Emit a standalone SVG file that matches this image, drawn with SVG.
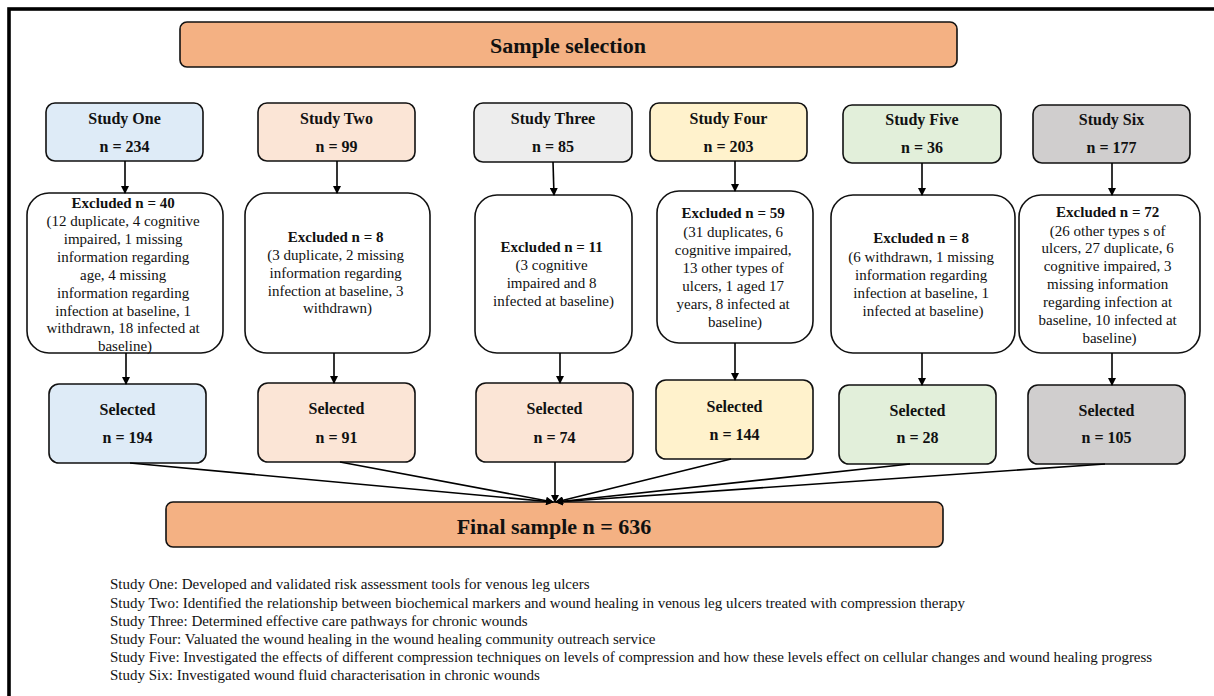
<svg xmlns="http://www.w3.org/2000/svg" width="1214" height="696" viewBox="0 0 1214 696">
<defs>
<marker id="ah" markerWidth="8" markerHeight="8" refX="7" refY="4" orient="auto" markerUnits="userSpaceOnUse">
<path d="M0,0 L8,4 L0,8 Z" fill="#000"/>
</marker>
<style>
.b{stroke:#111;stroke-width:1.6}
.t{font-family:"Liberation Serif","Times New Roman",serif;fill:#111;text-anchor:middle}
.h{font-weight:bold;font-size:16px}
.e{font-size:15px}
.eb{font-weight:bold}
.f{font-family:"Liberation Serif","Times New Roman",serif;fill:#111;font-size:15px}
.c{stroke:#000;stroke-width:1.6;fill:none;marker-end:url(#ah)}
</style>
</defs>
<rect width="1214" height="696" fill="#fff"/>
<rect x="9" y="9" width="1230" height="720" fill="none" stroke="#000" stroke-width="3.6"/>

<g id="sample-selection">
<rect class="b" x="180" y="22" width="777" height="45" rx="7" fill="#F4B183"/>
<text class="t" x="568" y="53" font-size="22" font-weight="bold">Sample selection</text>
</g>

<g id="study-one">
<rect class="b" x="46" y="103" width="157" height="58" rx="9" fill="#DEEBF7"/>
<text class="t h" x="124.5" y="123.5">Study One</text>
<text class="t h" x="124.5" y="152">n = 234</text>
</g>
<g id="study-two">
<rect class="b" x="258" y="103" width="157" height="58" rx="9" fill="#FBE5D6"/>
<text class="t h" x="336.5" y="123.5">Study Two</text>
<text class="t h" x="336.5" y="152">n = 99</text>
</g>
<g id="study-three">
<rect class="b" x="474" y="103" width="158" height="59" rx="9" fill="#EDEDED"/>
<text class="t h" x="553" y="124">Study Three</text>
<text class="t h" x="553" y="152">n = 85</text>
</g>
<g id="study-four">
<rect class="b" x="650" y="103" width="157" height="58" rx="9" fill="#FFF2CC"/>
<text class="t h" x="728.5" y="123.5">Study Four</text>
<text class="t h" x="728.5" y="152">n = 203</text>
</g>
<g id="study-five">
<rect class="b" x="843" y="105" width="158" height="58" rx="9" fill="#E2EFDA"/>
<text class="t h" x="922" y="125">Study Five</text>
<text class="t h" x="922" y="153">n = 36</text>
</g>
<g id="study-six">
<rect class="b" x="1033" y="105" width="157" height="58" rx="9" fill="#D0CECE"/>
<text class="t h" x="1111.5" y="125">Study Six</text>
<text class="t h" x="1111.5" y="153">n = 177</text>
</g>

<g id="excluded-one">
<rect class="b" x="27" y="193" width="196" height="160" rx="22" fill="#fff"/>
<text class="t e">
<tspan class="eb" x="125" y="208">Excluded n = 40</tspan>
<tspan x="125" y="226">(12 duplicate, 4 cognitive</tspan>
<tspan x="125" y="244">impaired, 1 missing</tspan>
<tspan x="125" y="261.5">information regarding</tspan>
<tspan x="125" y="279.5">age, 4 missing</tspan>
<tspan x="125" y="297.5">information regarding</tspan>
<tspan x="125" y="315.5">infection at baseline, 1</tspan>
<tspan x="125" y="333">withdrawn, 18 infected at</tspan>
<tspan x="125" y="351">baseline)</tspan>
</text>
</g>
<g id="excluded-two">
<rect class="b" x="245" y="193" width="185" height="160" rx="22" fill="#fff"/>
<text class="t e">
<tspan class="eb" x="337.5" y="242">Excluded n = 8</tspan>
<tspan x="337.5" y="260">(3 duplicate, 2 missing</tspan>
<tspan x="337.5" y="277.5">information regarding</tspan>
<tspan x="337.5" y="295.5">infection at baseline, 3</tspan>
<tspan x="337.5" y="313">withdrawn)</tspan>
</text>
</g>
<g id="excluded-three">
<rect class="b" x="475" y="195" width="157" height="158" rx="22" fill="#fff"/>
<text class="t e">
<tspan class="eb" x="553.5" y="252">Excluded n = 11</tspan>
<tspan x="553.5" y="270">(3 cognitive</tspan>
<tspan x="553.5" y="288">impaired and 8</tspan>
<tspan x="553.5" y="306">infected at baseline)</tspan>
</text>
</g>
<g id="excluded-four">
<rect class="b" x="657" y="191" width="156" height="152" rx="22" fill="#fff"/>
<text class="t e">
<tspan class="eb" x="735" y="218">Excluded n = 59</tspan>
<tspan x="735" y="236.5">(31 duplicates, 6</tspan>
<tspan x="735" y="254.5">cognitive impaired,</tspan>
<tspan x="735" y="272.5">13 other types of</tspan>
<tspan x="735" y="291">ulcers, 1 aged 17</tspan>
<tspan x="735" y="309">years, 8 infected at</tspan>
<tspan x="735" y="327">baseline)</tspan>
</text>
</g>
<g id="excluded-five">
<rect class="b" x="831" y="195" width="184" height="158" rx="22" fill="#fff"/>
<text class="t e">
<tspan class="eb" x="923" y="243">Excluded n = 8</tspan>
<tspan x="923" y="261.5">(6 withdrawn, 1 missing</tspan>
<tspan x="923" y="279.5">information regarding</tspan>
<tspan x="923" y="297.5">infection at baseline, 1</tspan>
<tspan x="923" y="315.5">infected at baseline)</tspan>
</text>
</g>
<g id="excluded-six">
<rect class="b" x="1019" y="195" width="181" height="158" rx="22" fill="#fff"/>
<text class="t e">
<tspan class="eb" x="1109.5" y="217">Excluded n = 72</tspan>
<tspan x="1109.5" y="235.5">(26 other types s of</tspan>
<tspan x="1109.5" y="253">ulcers, 27 duplicate, 6</tspan>
<tspan x="1109.5" y="271">cognitive impaired, 3</tspan>
<tspan x="1109.5" y="289">missing information</tspan>
<tspan x="1109.5" y="307">regarding infection at</tspan>
<tspan x="1109.5" y="325">baseline, 10 infected at</tspan>
<tspan x="1109.5" y="342.5">baseline)</tspan>
</text>
</g>

<g id="selected-one">
<rect class="b" x="49" y="384" width="157" height="79" rx="10" fill="#DEEBF7"/>
<text class="t h" x="127.5" y="415">Selected</text>
<text class="t h" x="127.5" y="443">n = 194</text>
</g>
<g id="selected-two">
<rect class="b" x="258" y="383" width="157" height="79" rx="10" fill="#FBE5D6"/>
<text class="t h" x="336.5" y="414">Selected</text>
<text class="t h" x="336.5" y="443">n = 91</text>
</g>
<g id="selected-three">
<rect class="b" x="476" y="383" width="157" height="79" rx="10" fill="#FBE5D6"/>
<text class="t h" x="554.5" y="414">Selected</text>
<text class="t h" x="554.5" y="443">n = 74</text>
</g>
<g id="selected-four">
<rect class="b" x="656" y="380" width="157" height="79" rx="10" fill="#FFF2CC"/>
<text class="t h" x="734.5" y="412">Selected</text>
<text class="t h" x="734.5" y="440">n = 144</text>
</g>
<g id="selected-five">
<rect class="b" x="839" y="385" width="157" height="79" rx="10" fill="#E2EFDA"/>
<text class="t h" x="917.5" y="416">Selected</text>
<text class="t h" x="917.5" y="443">n = 28</text>
</g>
<g id="selected-six">
<rect class="b" x="1028" y="385" width="157" height="79" rx="10" fill="#D0CECE"/>
<text class="t h" x="1106.5" y="416">Selected</text>
<text class="t h" x="1106.5" y="443">n = 105</text>
</g>

<g id="final-sample">
<rect class="b" x="166" y="502" width="777" height="45" rx="7" fill="#F4B183"/>
<text class="t" x="554" y="534" font-size="22" font-weight="bold">Final sample n = 636</text>
</g>

<g id="connectors">
<line class="c" x1="125" y1="161" x2="125" y2="193"/>
<line class="c" x1="337" y1="161" x2="337" y2="193"/>
<line class="c" x1="553" y1="162" x2="554" y2="195"/>
<line class="c" x1="735" y1="161" x2="735" y2="191"/>
<line class="c" x1="922" y1="163" x2="922" y2="195"/>
<line class="c" x1="1112" y1="163" x2="1112" y2="195"/>
<line class="c" x1="126" y1="353" x2="126" y2="384"/>
<line class="c" x1="334" y1="353" x2="334" y2="383"/>
<line class="c" x1="560" y1="353" x2="560" y2="383"/>
<line class="c" x1="735" y1="343" x2="735" y2="380"/>
<line class="c" x1="922" y1="353" x2="922" y2="385"/>
<line class="c" x1="1112" y1="353" x2="1112" y2="385"/>
<line class="c" x1="130" y1="463" x2="553" y2="502"/>
<line class="c" x1="340" y1="462" x2="553" y2="502"/>
<line class="c" x1="555" y1="462" x2="555" y2="502"/>
<line class="c" x1="731" y1="459" x2="556" y2="502"/>
<line class="c" x1="910" y1="464" x2="556" y2="502"/>
<line class="c" x1="1105" y1="464" x2="556" y2="502"/>
</g>

<g id="legend">
<text class="f" x="110" y="589">Study One: Developed and validated risk assessment tools for venous leg ulcers</text>
<text class="f" x="110" y="607.5">Study Two: Identified the relationship between biochemical markers and wound healing in venous leg ulcers treated with compression therapy</text>
<text class="f" x="110" y="625.5">Study Three: Determined effective care pathways for chronic wounds</text>
<text class="f" x="110" y="643.5">Study Four: Valuated the wound healing in the wound healing community outreach service</text>
<text class="f" x="110" y="662">Study Five: Investigated the effects of different compression techniques on levels of compression and how these levels effect on cellular changes and wound healing progress</text>
<text class="f" x="110" y="680">Study Six: Investigated wound fluid characterisation in chronic wounds</text>
</g>
</svg>
